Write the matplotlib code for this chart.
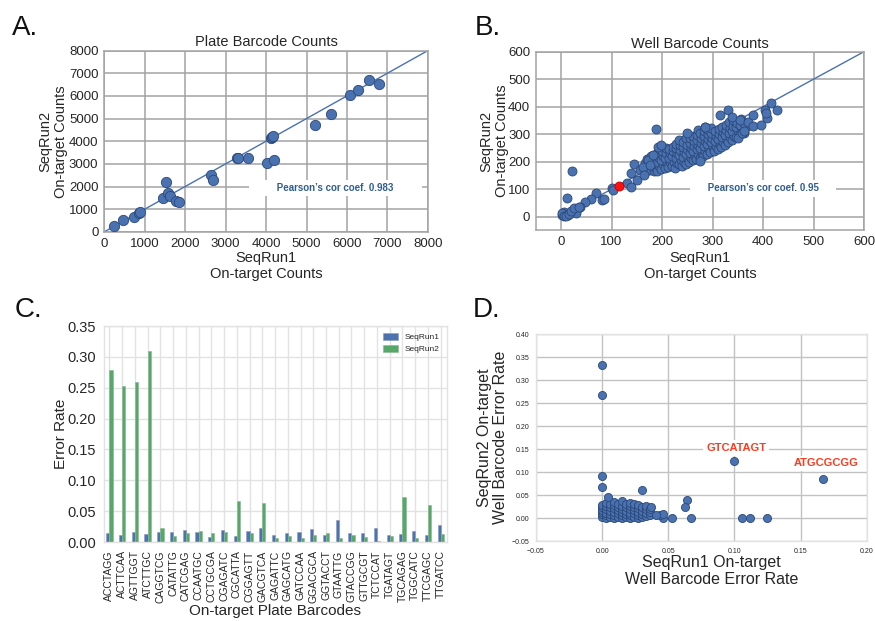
import matplotlib
matplotlib.use('Agg')
import matplotlib.pyplot as plt

plt.rcParams['font.family'] = ['Liberation Sans', 'DejaVu Sans']

# ---------------- Panel A data: plate barcode counts ----------------
plate_run1 = [247, 478, 750, 874, 900, 1451, 1526, 1592, 1625, 1773, 1847,
              2631, 2680, 3274, 3315, 3546, 4016, 4123, 4160, 4181, 4206,
              5220, 5608, 6062, 6276, 6548, 6796]
plate_run2 = [250, 528, 675, 837, 870, 1483, 2217, 1703, 1585, 1380, 1306,
              2525, 2290, 3244, 3244, 3244, 3039, 4140, 4180, 4243, 3156,
              4698, 5211, 6019, 6268, 6708, 6518]
plate_lim = 8000
plate_ticks = [0, 1000, 2000, 3000, 4000, 5000, 6000, 7000, 8000]

# ---------------- Panel B data: well barcode counts ----------------
well_out_run1 = [21, 11, 189, 69, 59, 48, 38, 31, 23, 17, 8, 3, 5, 1, 13, 30,
                 2, 6, 10, 15, 20, 25, 35,
                 82, 86, 100, 102, 131, 139, 139, 145, 150, 156, 163, 164,
                 173, 176, 183, 193, 199, 249, 275, 285, 331, 315, 338, 351,
                 354, 358, 371, 381, 380, 396, 404, 407, 406, 416, 427, 362]
well_out_run2 = [166, 67, 319, 88, 63, 52, 34, 29, 24, 15, 12, 8, 18, 6, 6, 12,
                 14, 3, 4, 10, 20, 30, 36,
                 61, 63, 103, 97, 124, 109, 160, 190, 133, 170, 182, 152,
                 206, 188, 224, 255, 261, 303, 202, 327, 388, 370, 364, 285,
                 351, 303, 345, 330, 370, 333, 388, 360, 376, 412, 388, 313]
well_cloud_run1 = [
    168, 172, 166, 171,
    176, 180, 177, 179,
    184, 187, 183, 186, 185,
    190, 194, 191, 193, 192,
    198, 202, 199, 201, 200,
    206, 209, 205, 208, 207,
    212, 216, 213, 215, 214,
    220, 223, 219, 222, 221,
    226, 230, 227, 229, 228, 227,
    233, 237, 234, 236, 235, 234,
    240, 244, 241, 243, 242, 241,
    247, 251, 248, 250, 249, 248,
    254, 258, 255, 257, 256, 255,
    261, 265, 262, 264, 263, 262,
    268, 272, 269, 271, 270, 269, 271,
    275, 279, 276, 278, 277, 276,
    282, 286, 283, 285, 284, 283, 285,
    289, 293, 290, 292, 291, 290,
    296, 300, 297, 299, 298, 297,
    303, 307, 304, 306, 305,
    310, 314, 311, 313, 312,
    317, 321, 318, 320, 319,
    324, 328, 325, 327, 326,
    331, 335, 332, 334, 333,
    338, 342, 339, 341, 340,
    346, 350, 347, 349,
    354, 358, 355, 357,
    362, 366, 363]
well_cloud_run2 = [
    165, 180, 195, 210,
    170, 188, 205, 220,
    165, 178, 195, 212, 225,
    168, 185, 200, 218, 235,
    172, 190, 205, 220, 240,
    178, 195, 212, 230, 250,
    180, 198, 215, 232, 248,
    185, 200, 220, 238, 255,
    178, 195, 212, 230, 250, 265,
    190, 208, 225, 242, 260, 278,
    185, 200, 218, 235, 255, 272,
    192, 210, 228, 245, 262, 285,
    198, 215, 232, 250, 268, 288,
    205, 222, 240, 258, 275, 292,
    210, 228, 245, 262, 280, 298, 315,
    215, 232, 250, 268, 285, 305,
    222, 240, 258, 275, 292, 310, 325,
    228, 248, 265, 282, 300, 318,
    235, 252, 270, 288, 305, 322,
    240, 258, 276, 293, 310,
    248, 265, 282, 300, 318,
    255, 272, 290, 308, 325,
    262, 280, 298, 315, 335,
    270, 290, 305, 322, 345,
    280, 295, 312, 330, 350,
    290, 310, 325, 340,
    300, 318, 335, 355,
    305, 325, 342]
well_highlight_run1 = [114]
well_highlight_run2 = [113]
well_lim = 600
well_ticks = [0, 100, 200, 300, 400, 500, 600]

# ---------------- Panel C data: plate barcode error rates ----------------
plate_barcodes = ['ACCTAGG', 'ACTTCAA', 'AGTTGGT', 'ATCTTGC', 'CAGGTCG',
                  'CATATTG', 'CATCGAG', 'CCAATGC', 'CCTGCGA', 'CGAGATC',
                  'CGCATTA', 'CGGAGTT', 'GACGTCA', 'GAGATTC', 'GAGCATG',
                  'GATCCAA', 'GGACGCA', 'GGTACCT', 'GTAATTG', 'GTACCGG',
                  'GTTGCGT', 'TCTCCAT', 'TGATAGT', 'TGCAGAG', 'TGGCATC',
                  'TTCGAGC', 'TTGATCC']
err_run1 = [0.014, 0.012, 0.016, 0.013, 0.016, 0.017, 0.019, 0.016, 0.008,
            0.019, 0.010, 0.018, 0.022, 0.012, 0.015, 0.016, 0.021, 0.012,
            0.035, 0.014, 0.014, 0.022, 0.012, 0.013, 0.018, 0.012, 0.027]
err_run2 = [0.278, 0.253, 0.259, 0.309, 0.022, 0.009, 0.014, 0.018, 0.015,
            0.017, 0.067, 0.014, 0.064, 0.006, 0.009, 0.006, 0.012, 0.014,
            0.007, 0.011, 0.008, 0.001, 0.010, 0.073, 0.006, 0.060, 0.013]
err_ticks = [0.00, 0.05, 0.10, 0.15, 0.20, 0.25, 0.30, 0.35]

# ---------------- Panel D data: well barcode error rates ----------------
well_err_out_run1 = [0.0, 0.0, 0.0, 0.0, 0.0298, 0.0045, 0.064, 0.063, 0.100,
                     0.167, 0.053, 0.067, 0.1055, 0.1116, 0.125, 0.0457,
                     0.0437, 0.0457, 0.041, 0.0366]
well_err_out_run2 = [0.333, 0.267, 0.091, 0.067, 0.062, 0.046, 0.039, 0.025,
                     0.125, 0.084, 0.0, 0.0, 0.0, 0.0, 0.0, 0.0,
                     0.007, 0.0094, 0.007, 0.025]
well_err_cluster_run1 = [
    0.000, 0.000, 0.000, 0.000, 0.000, 0.000,
    0.003, 0.003, 0.003, 0.003, 0.003, 0.003,
    0.006, 0.006, 0.006, 0.006, 0.006,
    0.009, 0.009, 0.009, 0.009, 0.009, 0.009,
    0.012, 0.012, 0.012, 0.012, 0.012,
    0.015, 0.015, 0.015, 0.015, 0.015, 0.015,
    0.018, 0.018, 0.018, 0.018, 0.018,
    0.021, 0.021, 0.021, 0.021, 0.021, 0.021,
    0.024, 0.024, 0.024, 0.024, 0.024,
    0.027, 0.027, 0.027, 0.027, 0.027,
    0.030, 0.030, 0.030, 0.030,
    0.033, 0.033, 0.033, 0.033,
    0.036, 0.036, 0.036]
well_err_cluster_run2 = [
    0.003, 0.008, 0.013, 0.018, 0.023, 0.028,
    0.000, 0.006, 0.012, 0.020, 0.027, 0.032,
    0.002, 0.009, 0.016, 0.024, 0.030,
    0.000, 0.007, 0.014, 0.021, 0.028, 0.034,
    0.003, 0.010, 0.018, 0.025, 0.031,
    0.000, 0.006, 0.013, 0.020, 0.027, 0.036,
    0.002, 0.009, 0.016, 0.023, 0.030,
    0.000, 0.006, 0.012, 0.019, 0.026, 0.032,
    0.003, 0.010, 0.017, 0.024, 0.030,
    0.000, 0.007, 0.014, 0.021, 0.028,
    0.002, 0.009, 0.016, 0.023,
    0.005, 0.012, 0.019, 0.026,
    0.006, 0.013, 0.020]
d_labels = ['GTCATAGT', 'ATGCGCGG']
d_label_x = [0.1012, 0.169]
d_label_y = [0.1525, 0.119]
d_xticks = [-0.05, 0.00, 0.05, 0.10, 0.15, 0.20]
d_yticks = [-0.05, 0.00, 0.05, 0.10, 0.15, 0.20, 0.25, 0.30, 0.35, 0.40]

# ---------------- Figure ----------------
W, H = 875, 621
fig = plt.figure(figsize=(W / 100, H / 100), dpi=100)


def px_axes(l, t, r, b):
    return fig.add_axes([l / W, 1 - b / H, (r - l) / W, (b - t) / H])


PT_BLUE = '#4a72b0'
PT_EDGE = '#2b4877'
TXT = '#262626'


def style(ax, grid_color, spine_color, lw, labelsize, pad):
    ax.set_facecolor('white')
    ax.grid(True, color=grid_color, lw=lw)
    ax.set_axisbelow(True)
    for s in ax.spines.values():
        s.set_color(spine_color)
        s.set_linewidth(lw)
    ax.tick_params(length=0, colors=TXT, labelsize=labelsize, pad=pad)


# ---- A ----
axA = px_axes(104, 50.5, 428, 232)
style(axA, '#a3a3a3', '#a3a3a3', 1.1, 9.5, 4)
axA.plot([0, plate_lim], [0, plate_lim], color=PT_BLUE, lw=1.0, zorder=2)
axA.scatter(plate_run1, plate_run2, s=55, color=PT_BLUE, edgecolor=PT_EDGE,
            linewidth=0.6, zorder=3)
axA.set_xlim(0, plate_lim)
axA.set_ylim(0, plate_lim)
axA.set_xticks(plate_ticks)
axA.set_yticks(plate_ticks)
axA.set_title('Plate Barcode Counts', fontsize=10.5, color=TXT, pad=3)
axA.set_xlabel('SeqRun1\nOn-target Counts', fontsize=10.5, color=TXT, linespacing=1.15)
axA.set_ylabel('SeqRun2\nOn-target Counts', fontsize=10.5, color=TXT, linespacing=1.15)
axA.xaxis.set_label_coords(0.5, -0.105)
axA.yaxis.set_label_coords(-0.11, 0.5)
axA.text(5716, 1940, '         Pearson\u2019s cor coef. 0.983         ',
         ha='center', va='center', fontsize=7, fontweight='bold',
         color='#2f5d8f', zorder=2.5,
         bbox=dict(boxstyle='square,pad=0.35', fc='white', ec='none'))

# ---- B ----
axB = px_axes(535.75, 51.7, 864, 230.45)
style(axB, '#a3a3a3', '#a3a3a3', 1.1, 9.5, 4)
axB.plot([0, well_lim], [0, well_lim], color=PT_BLUE, lw=1.0, zorder=2)
axB.scatter(well_cloud_run1, well_cloud_run2, s=42, color=PT_BLUE,
            edgecolor=PT_EDGE, linewidth=0.6, zorder=3)
axB.scatter(well_out_run1, well_out_run2, s=42, color=PT_BLUE,
            edgecolor=PT_EDGE, linewidth=0.6, zorder=3)
axB.scatter(well_highlight_run1, well_highlight_run2, s=42, color='#ff1010',
            edgecolor='#c00000', linewidth=0.6, zorder=4)
axB.set_xlim(-50, well_lim)
axB.set_ylim(-50, well_lim)
axB.set_xticks(well_ticks)
axB.set_yticks(well_ticks)
axB.set_title('Well Barcode Counts', fontsize=10.5, color=TXT, pad=3)
axB.set_xlabel('SeqRun1\nOn-target Counts', fontsize=10.5, color=TXT, linespacing=1.15)
axB.set_ylabel('SeqRun2\nOn-target Counts', fontsize=10.5, color=TXT, linespacing=1.15)
axB.xaxis.set_label_coords(0.5, -0.115)
axB.yaxis.set_label_coords(-0.083, 0.5)
axB.text(400, 104, '     Pearson\u2019s cor coef. 0.95     ',
         ha='center', va='center', fontsize=7, fontweight='bold',
         color='#2f5d8f', zorder=2.5,
         bbox=dict(boxstyle='square,pad=0.35', fc='white', ec='none'))

# ---- C ----
axC = px_axes(104, 326, 446.7, 542)
style(axC, '#e2e2e2', '#e2e2e2', 1.0, 10.5, 6)
pos = list(range(len(plate_barcodes)))
bw = 0.25
axC.bar([p - bw / 2 for p in pos], err_run1, width=bw, color='#4c72b0',
        edgecolor='#8a9ab5', linewidth=0.4, label='SeqRun1', zorder=2)
axC.bar([p + bw / 2 for p in pos], err_run2, width=bw, color='#55a868',
        edgecolor='#8ab595', linewidth=0.4, label='SeqRun2', zorder=2)
axC.set_xlim(-0.42, len(plate_barcodes) - 0.53)
axC.set_ylim(0, 0.35)
axC.set_yticks(err_ticks)
axC.set_yticklabels(['%.2f' % t for t in err_ticks])
axC.set_xticks(pos)
axC.set_xticklabels(plate_barcodes, rotation=90, fontsize=7.5)
axC.set_xlabel('On-target Plate Barcodes', fontsize=11, color=TXT)
axC.set_ylabel('Error Rate', fontsize=11, color=TXT)
axC.xaxis.set_label_coords(0.5, -0.285)
axC.yaxis.set_label_coords(-0.105, 0.5)
axC.legend(loc='upper right', frameon=False, fontsize=6, handlelength=1.9,
           handleheight=0.9, borderaxespad=0.4, labelspacing=0.45,
           labelcolor=TXT)

# ---- D ----
axD = px_axes(536, 334.3, 866.7, 541)
style(axD, '#c2c2c2', '#e2e2e2', 1.0, 5, 5)
axD.scatter(well_err_cluster_run1, well_err_cluster_run2, s=34, color=PT_BLUE,
            edgecolor=PT_EDGE, linewidth=0.6, zorder=3)
axD.scatter(well_err_out_run1, well_err_out_run2, s=34, color=PT_BLUE,
            edgecolor=PT_EDGE, linewidth=0.6, zorder=3)
axD.set_xlim(-0.05, 0.20)
axD.set_ylim(-0.05, 0.40)
axD.set_xticks(d_xticks)
axD.set_yticks(d_yticks)
axD.set_xticklabels(['\u22120.05' if t < 0 else '%.2f' % t for t in d_xticks])
axD.set_yticklabels(['\u22120.05' if t < 0 else '%.2f' % t for t in d_yticks])
axD.set_xlabel('SeqRun1 On-target\nWell Barcode Error Rate', fontsize=11.5,
               color=TXT, linespacing=1.1)
axD.set_ylabel('SeqRun2 On-target\nWell Barcode Error Rate', fontsize=11.5,
               color=TXT, linespacing=1.1)
axD.xaxis.set_label_coords(0.53, -0.07)
axD.yaxis.set_label_coords(-0.085, 0.5)
for lab, lx, ly in zip(d_labels, d_label_x, d_label_y):
    axD.text(lx, ly, lab, ha='center', va='center', fontsize=8,
             fontweight='bold', color='#ff3a1e', zorder=4,
             bbox=dict(boxstyle='square,pad=0.25', fc='white', ec='none'))

# ---- panel letters ----
for letter, x, y in [('A.', 12, 35), ('B.', 475, 35), ('C.', 15, 317), ('D.', 473, 317)]:
    fig.text(x / W, 1 - y / H, letter, fontsize=20, ha='left', va='baseline',
             color='#111111')

fig.savefig('out.png', dpi=100)
